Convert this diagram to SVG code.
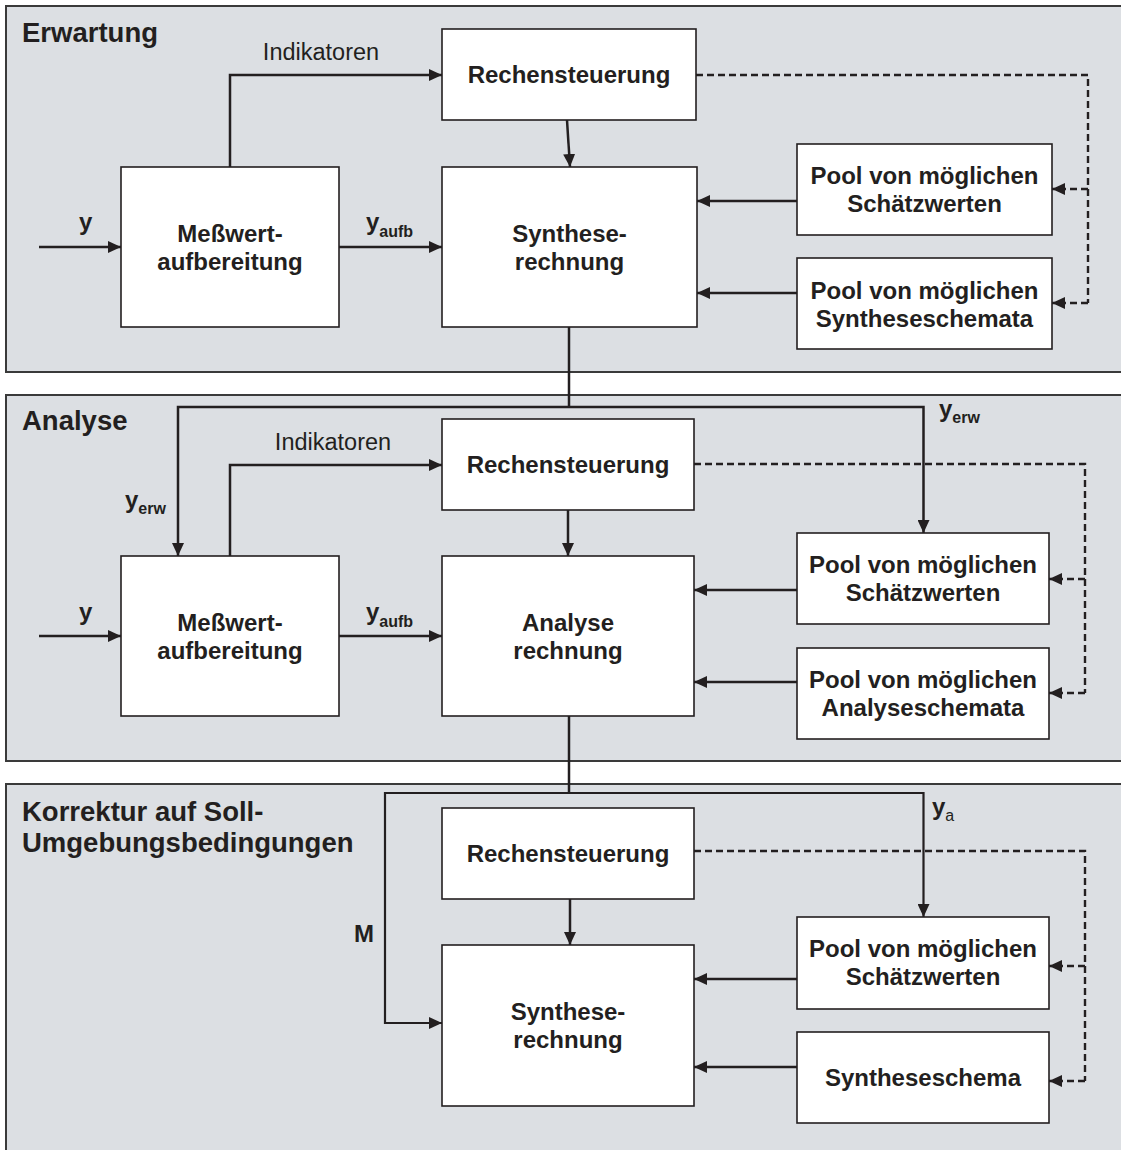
<svg xmlns="http://www.w3.org/2000/svg" width="1121" height="1150" viewBox="0 0 1121 1150">
  <defs>
    <style>
      .panel{fill:#dcdfe3;stroke:#3a3a3a;stroke-width:2}
      .box{fill:#fff;stroke:#231f20;stroke-width:1.6}
      text{font-family:"Liberation Sans",Arial,Helvetica,sans-serif;fill:#231f20}
      .b{font-weight:bold;font-size:24px;text-anchor:middle}
      .title{font-weight:bold;font-size:27.5px}
      .ind{font-size:23.5px;text-anchor:middle}
      .lbl{font-weight:bold;font-size:24px}
      .sub{font-size:16px}
      .c{fill:none;stroke:#231f20;stroke-width:2.5}
      .cs{fill:none;stroke:#231f20;stroke-width:2.2}
      .d{fill:none;stroke:#231f20;stroke-width:2.4;stroke-dasharray:7 4}
    </style>
    <marker id="arr" viewBox="0 0 13 12" markerWidth="13" markerHeight="12" refX="13" refY="6" orient="auto" markerUnits="userSpaceOnUse">
      <path d="M0,0 L13,6 L0,12 Z" fill="#231f20"/>
    </marker>
  </defs>

  <!-- stage panels -->
  <g id="panels">
    <g id="panel-erwartung">
      <rect class="panel" x="6" y="6" width="1130" height="366"/>
      <text class="title" x="22" y="42">Erwartung</text>
    </g>
    <g id="panel-analyse">
      <rect class="panel" x="6" y="395" width="1130" height="366"/>
      <text class="title" x="22" y="430">Analyse</text>
    </g>
    <g id="panel-korrektur">
      <rect class="panel" x="6" y="784" width="1130" height="400"/>
      <text class="title" x="22" y="821">Korrektur auf Soll-</text>
      <text class="title" x="22" y="852">Umgebungsbedingungen</text>
    </g>
  </g>

  <!-- stage 1: Erwartung -->
  <g id="e-messwert">
    <rect class="box" x="121" y="167" width="218" height="160"/>
    <text class="b" x="230" y="242">Meßwert-</text>
    <text class="b" x="230" y="270">aufbereitung</text>
  </g>
  <g id="e-rechensteuerung">
    <rect class="box" x="442" y="29" width="254" height="91"/>
    <text class="b" x="569" y="83">Rechensteuerung</text>
  </g>
  <g id="e-synthese">
    <rect class="box" x="442" y="167" width="255" height="160"/>
    <text class="b" x="569.5" y="242">Synthese-</text>
    <text class="b" x="569.5" y="270">rechnung</text>
  </g>
  <g id="e-pool-schaetz">
    <rect class="box" x="797" y="144" width="255" height="91"/>
    <text class="b" x="924.5" y="184">Pool von möglichen</text>
    <text class="b" x="924.5" y="212">Schätzwerten</text>
  </g>
  <g id="e-pool-schemata">
    <rect class="box" x="797" y="258" width="255" height="91"/>
    <text class="b" x="924.5" y="299">Pool von möglichen</text>
    <text class="b" x="924.5" y="327">Syntheseschemata</text>
  </g>

  <!-- stage 2: Analyse -->
  <g id="a-messwert">
    <rect class="box" x="121" y="556" width="218" height="160"/>
    <text class="b" x="230" y="631">Meßwert-</text>
    <text class="b" x="230" y="659">aufbereitung</text>
  </g>
  <g id="a-rechensteuerung">
    <rect class="box" x="442" y="419" width="252" height="91"/>
    <text class="b" x="568" y="473">Rechensteuerung</text>
  </g>
  <g id="a-analyse">
    <rect class="box" x="442" y="556" width="252" height="160"/>
    <text class="b" x="568" y="631">Analyse</text>
    <text class="b" x="568" y="659">rechnung</text>
  </g>
  <g id="a-pool-schaetz">
    <rect class="box" x="797" y="533" width="252" height="91"/>
    <text class="b" x="923" y="573">Pool von möglichen</text>
    <text class="b" x="923" y="601">Schätzwerten</text>
  </g>
  <g id="a-pool-schemata">
    <rect class="box" x="797" y="648" width="252" height="91"/>
    <text class="b" x="923" y="688">Pool von möglichen</text>
    <text class="b" x="923" y="716">Analyseschemata</text>
  </g>

  <!-- stage 3: Korrektur -->
  <g id="k-rechensteuerung">
    <rect class="box" x="442" y="808" width="252" height="91"/>
    <text class="b" x="568" y="862">Rechensteuerung</text>
  </g>
  <g id="k-synthese">
    <rect class="box" x="442" y="945" width="252" height="161"/>
    <text class="b" x="568" y="1020">Synthese-</text>
    <text class="b" x="568" y="1048">rechnung</text>
  </g>
  <g id="k-pool-schaetz">
    <rect class="box" x="797" y="917" width="252" height="92"/>
    <text class="b" x="923" y="957">Pool von möglichen</text>
    <text class="b" x="923" y="985">Schätzwerten</text>
  </g>
  <g id="k-schema">
    <rect class="box" x="797" y="1032" width="252" height="91"/>
    <text class="b" x="923" y="1086">Syntheseschema</text>
  </g>

  <!-- connectors -->
  <g id="connectors">
    <!-- Erwartung -->
    <path class="c" d="M39,247 H121" marker-end="url(#arr)"/>
    <path class="c" d="M339,247 H442" marker-end="url(#arr)"/>
    <path class="c" d="M230,167 V75 H442" marker-end="url(#arr)"/>
    <path class="c" d="M567,120 L570,167" marker-end="url(#arr)"/>
    <path class="c" d="M797,201 H697" marker-end="url(#arr)"/>
    <path class="c" d="M797,293 H697" marker-end="url(#arr)"/>
    <path class="d" d="M696,75 H1088 V303"/>
    <path class="d" d="M1088,189 H1052" marker-end="url(#arr)"/>
    <path class="d" d="M1088,303 H1052" marker-end="url(#arr)"/>

    <!-- y_erw from Erwartung into Analyse -->
    <path class="c" d="M569,327 V407"/>
    <path class="c" d="M569,407 H178 V556" marker-end="url(#arr)"/>
    <path class="c" d="M569,407 H923.5 V533" marker-end="url(#arr)"/>

    <!-- Analyse -->
    <path class="c" d="M39,636 H121" marker-end="url(#arr)"/>
    <path class="c" d="M339,636 H442" marker-end="url(#arr)"/>
    <path class="c" d="M230,556 V465 H442" marker-end="url(#arr)"/>
    <path class="c" d="M568,510 V556" marker-end="url(#arr)"/>
    <path class="c" d="M797,590 H694" marker-end="url(#arr)"/>
    <path class="c" d="M797,682 H694" marker-end="url(#arr)"/>
    <path class="d" d="M694,464 H1085 V693"/>
    <path class="d" d="M1085,579 H1049" marker-end="url(#arr)"/>
    <path class="d" d="M1085,693 H1049" marker-end="url(#arr)"/>

    <!-- M and y_a from Analyse into Korrektur -->
    <path class="c" d="M569,716 V793"/>
    <path class="cs" d="M569,793 H385 V1023 H442" marker-end="url(#arr)"/>
    <path class="cs" d="M569,793 H923.5 V917" marker-end="url(#arr)"/>

    <!-- Korrektur -->
    <path class="c" d="M570,899 V945" marker-end="url(#arr)"/>
    <path class="c" d="M797,979 H694" marker-end="url(#arr)"/>
    <path class="c" d="M797,1067 H694" marker-end="url(#arr)"/>
    <path class="d" d="M694,851 H1085 V1081"/>
    <path class="d" d="M1085,966 H1049" marker-end="url(#arr)"/>
    <path class="d" d="M1085,1081 H1049" marker-end="url(#arr)"/>
  </g>

  <!-- connector labels -->
  <g id="labels">
    <text class="ind" x="321" y="60">Indikatoren</text>
    <text class="lbl" x="79" y="230">y</text>
    <text class="lbl" x="366" y="230">y<tspan class="sub" dy="7">aufb</tspan></text>

    <text class="ind" x="333" y="450">Indikatoren</text>
    <text class="lbl" x="79" y="620">y</text>
    <text class="lbl" x="366" y="620">y<tspan class="sub" dy="7">aufb</tspan></text>
    <text class="lbl" x="125" y="508">y<tspan class="sub" dy="6">erw</tspan></text>
    <text class="lbl" x="939" y="417">y<tspan class="sub" dy="6">erw</tspan></text>

    <text class="lbl" x="354" y="942">M</text>
    <text class="lbl" x="932" y="815">y<tspan class="sub" dy="6" font-weight="normal">a</tspan></text>
  </g>
</svg>
